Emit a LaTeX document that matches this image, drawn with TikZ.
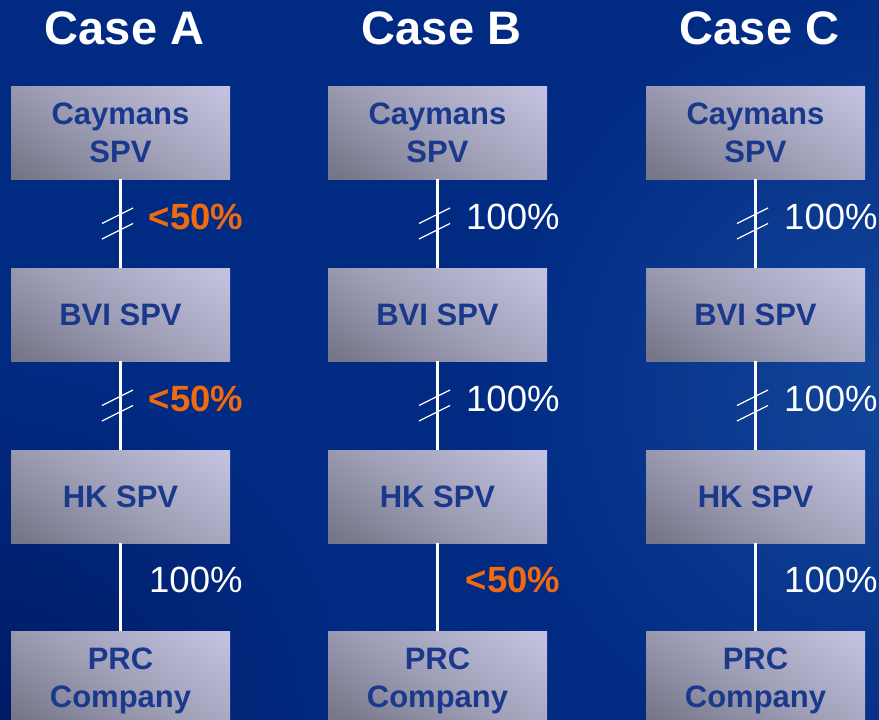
\documentclass[tikz,border=0pt]{standalone}
\usepackage{fontspec}
\setmainfont{Liberation Sans}
\definecolor{bgbase}{HTML}{012A82}
\definecolor{bgdark}{HTML}{001A64}
\definecolor{bglight}{HTML}{12479A}
\definecolor{boxlight}{HTML}{C2C2E0}
\definecolor{boxmid}{HTML}{A0A0B8}
\definecolor{boxdark}{HTML}{76768A}
\definecolor{boxtext}{HTML}{1A388C}
\definecolor{minority}{HTML}{F06A10}
% box fill: ramp spread over the whole diagonal of the box
\pgfdeclareverticalshading{boxshade}{100bp}{%
  color(0bp)=(boxdark); color(18bp)=(boxdark); color(50bp)=(boxmid);
  color(82bp)=(boxlight); color(100bp)=(boxlight)}
\tikzset{
  entity/.style={minimum width=219pt, minimum height=93pt, inner sep=0pt,
    shading=boxshade, shading angle=-32,
    text=boxtext, font=\fontsize{31}{38}\selectfont\bfseries,
    align=center, text depth=0pt},
  link/.style={draw=white, line width=2.2pt},
  slash/.style={draw=white, line width=1.2pt},
  header/.style={text=white, font=\fontsize{47}{50}\selectfont\bfseries,
    anchor=base, inner sep=0pt},
  share/.style={text=white, font=\fontsize{36.5}{40}\selectfont,
    anchor=base west, inner sep=0pt},
  minor/.style={share, text=minority, font=\fontsize{36.5}{40}\selectfont\bfseries},
  slashmark/.pic={
    \draw[slash] (-18.5,0) -- (12.5,-15.5);
    \draw[slash] (-18.5,15.5) -- (12.5,0);
  }
}
\begin{document}
\begin{tikzpicture}[x=1pt,y=-1pt]
  \clip (0,0) rectangle (879,720);
  % background: deep blue, lighter glow on the right, darker lower left
  \fill[bgbase] (0,0) rectangle (879,720);
  \shade[inner color=bglight, outer color=bgbase] (900,390) circle (430);
  \shade[inner color=bgdark, outer color=bgbase] (-20,740) circle (380);

  % column headers
  \node[header] (hA) at (124.5,45) {Case A};
  \node[header] (hB) at (441.5,45) {Case B};
  \node[header] (hC) at (759.5,45) {Case C};

  % ---------- Case A ----------
  \node[entity] (cayA) at (120.5,132.5) {Caymans\\SPV};
  \node[entity] (bviA) at (120.5,314.5) {BVI SPV};
  \node[entity] (hkA)  at (120.5,496.5) {HK SPV};
  \node[entity] (prcA) at (120.5,677.5) {PRC\\Company};
  \draw[link] (cayA) -- coordinate (mA1) (bviA);
  \draw[link] (bviA) -- coordinate (mA2) (hkA);
  \draw[link] (hkA)  -- coordinate (mA3) (prcA);
  \pic at (mA1) {slashmark};
  \pic at (mA2) {slashmark};
  \node[minor] (pA1) at ([shift={(28,5.9)}]mA1) {<50\%};
  \node[minor] (pA2) at ([shift={(28,5.9)}]mA2) {<50\%};
  \node[share] (pA3) at ([shift={(28.5,5.9)}]mA3) {100\%};

  % ---------- Case B ----------
  \node[entity] (cayB) at (437.5,132.5) {Caymans\\SPV};
  \node[entity] (bviB) at (437.5,314.5) {BVI SPV};
  \node[entity] (hkB)  at (437.5,496.5) {HK SPV};
  \node[entity] (prcB) at (437.5,677.5) {PRC\\Company};
  \draw[link] (cayB) -- coordinate (mB1) (bviB);
  \draw[link] (bviB) -- coordinate (mB2) (hkB);
  \draw[link] (hkB)  -- coordinate (mB3) (prcB);
  \pic at (mB1) {slashmark};
  \pic at (mB2) {slashmark};
  \node[share] (pB1) at ([shift={(28.5,5.9)}]mB1) {100\%};
  \node[share] (pB2) at ([shift={(28.5,5.9)}]mB2) {100\%};
  \node[minor] (pB3) at ([shift={(28,5.9)}]mB3) {<50\%};

  % ---------- Case C ----------
  \node[entity] (cayC) at (755.5,132.5) {Caymans\\SPV};
  \node[entity] (bviC) at (755.5,314.5) {BVI SPV};
  \node[entity] (hkC)  at (755.5,496.5) {HK SPV};
  \node[entity] (prcC) at (755.5,677.5) {PRC\\Company};
  \draw[link] (cayC) -- coordinate (mC1) (bviC);
  \draw[link] (bviC) -- coordinate (mC2) (hkC);
  \draw[link] (hkC)  -- coordinate (mC3) (prcC);
  \pic at (mC1) {slashmark};
  \pic at (mC2) {slashmark};
  \node[share] (pC1) at ([shift={(28.5,5.9)}]mC1) {100\%};
  \node[share] (pC2) at ([shift={(28.5,5.9)}]mC2) {100\%};
  \node[share] (pC3) at ([shift={(28.5,5.9)}]mC3) {100\%};
\end{tikzpicture}
\end{document}
